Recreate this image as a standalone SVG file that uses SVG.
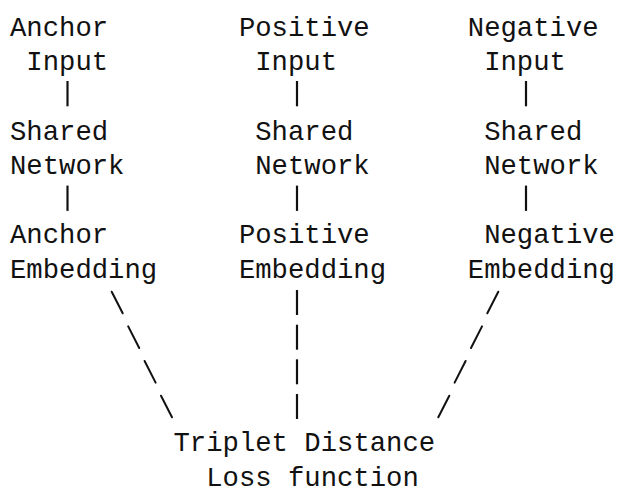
<svg xmlns="http://www.w3.org/2000/svg" width="619" height="488" viewBox="0 0 619 488">
  <style>
    text { font-family: "Liberation Mono", "DejaVu Sans Mono", monospace; font-size: 27.25px; fill: #111; }
    .bar { stroke: #111; stroke-width: 2.2; fill: none; }
    .slash { stroke: #111; stroke-width: 2; stroke-linecap: round; fill: none; }
  </style>
  <rect width="619" height="488" fill="#fff"/>

  <!-- input row -->
  <g id="anchor-input">
    <text x="10" y="35.5">Anchor</text>
    <text x="26.35" y="70.2">Input</text>
  </g>
  <g id="positive-input">
    <text x="238.9" y="35.5">Positive</text>
    <text x="255.25" y="70.2">Input</text>
  </g>
  <g id="negative-input">
    <text x="467.8" y="35.5">Negative</text>
    <text x="484.15" y="70.2">Input</text>
  </g>

  <!-- shared network row -->
  <g id="anchor-network">
    <text x="10" y="139.5">Shared</text>
    <text x="10" y="174.1">Network</text>
  </g>
  <g id="positive-network">
    <text x="255.25" y="139.5">Shared</text>
    <text x="255.25" y="174.1">Network</text>
  </g>
  <g id="negative-network">
    <text x="484.15" y="139.5">Shared</text>
    <text x="484.15" y="174.1">Network</text>
  </g>

  <!-- embedding row -->
  <g id="anchor-embedding">
    <text x="10" y="243.4">Anchor</text>
    <text x="10" y="278">Embedding</text>
  </g>
  <g id="positive-embedding">
    <text x="238.9" y="243.4">Positive</text>
    <text x="238.9" y="278">Embedding</text>
  </g>
  <g id="negative-embedding">
    <text x="484.15" y="243.4">Negative</text>
    <text x="467.8" y="278">Embedding</text>
  </g>

  <!-- loss -->
  <g id="triplet-loss">
    <text x="173.5" y="451.3">Triplet Distance</text>
    <text x="206.2" y="485.9">Loss function</text>
  </g>

  <!-- connectors: dashed strokes drawn one character cell at a time -->
  <g id="connectors">
    <!-- input to shared network -->
    <line class="bar" x1="67.5" y1="81" x2="67.5" y2="106.3"/>
    <line class="bar" x1="297" y1="81" x2="297" y2="106.3"/>
    <line class="bar" x1="526" y1="81" x2="526" y2="106.3"/>
    <!-- shared network to embedding -->
    <line class="bar" x1="67.5" y1="185.6" x2="67.5" y2="210.9"/>
    <line class="bar" x1="297" y1="185.6" x2="297" y2="210.9"/>
    <line class="bar" x1="526" y1="185.6" x2="526" y2="210.9"/>
    <!-- anchor embedding to loss -->
    <line class="slash" x1="111.7" y1="291.7" x2="122.7" y2="313.3"/>
    <line class="slash" x1="128.2" y1="326.4" x2="139.2" y2="348"/>
    <line class="slash" x1="144.6" y1="361" x2="155.6" y2="382.6"/>
    <line class="slash" x1="161" y1="395.7" x2="172" y2="417.3"/>
    <!-- positive embedding to loss -->
    <line class="bar" x1="297" y1="290" x2="297" y2="315"/>
    <line class="bar" x1="297" y1="324.7" x2="297" y2="349.7"/>
    <line class="bar" x1="297" y1="359.3" x2="297" y2="384.3"/>
    <line class="bar" x1="297" y1="394" x2="297" y2="419"/>
    <!-- negative embedding to loss -->
    <line class="slash" x1="498.3" y1="291.7" x2="487.3" y2="313.3"/>
    <line class="slash" x1="482" y1="326.4" x2="471" y2="348"/>
    <line class="slash" x1="465.6" y1="361" x2="454.6" y2="382.6"/>
    <line class="slash" x1="449.3" y1="395.7" x2="438.3" y2="417.3"/>
  </g>
</svg>
